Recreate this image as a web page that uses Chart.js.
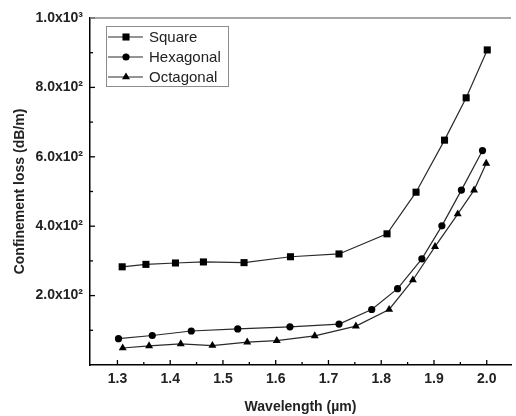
<!DOCTYPE html>
<html>
<head>
<meta charset="utf-8">
<script src="https://cdn.jsdelivr.net/npm/chart.js@4.4.0/dist/chart.umd.min.js"></script>
<style>
  body { margin: 0; background: #fff; }
  #wrap { width: 516px; height: 416px; }
</style>
</head>
<body>
<div id="wrap"><canvas id="lossChart" width="516" height="416"></canvas></div>
<script>
// wavelength (um) / confinement loss (dB/m)
const squareX = [1.309, 1.354, 1.410, 1.463, 1.540, 1.628, 1.720, 1.811, 1.866, 1.920, 1.961, 2.001];
const squareY = [283, 290, 294, 297, 295, 312, 320, 378, 498, 648, 770, 908];
const hexX = [1.302, 1.366, 1.440, 1.528, 1.627, 1.720, 1.782, 1.831, 1.877, 1.915, 1.952, 1.992];
const hexY = [76, 85, 98, 104, 110, 118, 160, 220, 306, 401, 504, 618];
const octX = [1.310, 1.360, 1.420, 1.480, 1.546, 1.602, 1.674, 1.752, 1.815, 1.860, 1.902, 1.945, 1.976, 1.999];
const octY = [49, 55, 61, 56, 66, 70, 84, 112, 160, 245, 341, 435, 504, 581];
const seriesNames = ['Square', 'Hexagonal', 'Octagonal'];
const xTickValues = [1.3, 1.35, 1.4, 1.45, 1.5, 1.55, 1.6, 1.65, 1.7, 1.75, 1.8, 1.85, 1.9, 1.95, 2.0];
const xTickLabels = ['1.3', '', '1.4', '', '1.5', '', '1.6', '', '1.7', '', '1.8', '', '1.9', '', '2.0'];
const yTickLabels = { 200: '2.0x10\u00b2', 400: '4.0x10\u00b2', 600: '6.0x10\u00b2', 800: '8.0x10\u00b2', 1000: '1.0x10\u00b3' };

const pts = (xs, ys) => xs.map((x, i) => ({ x: x, y: ys[i] }));

const lineColor = '#2a2a2a';
function series(label, data, style, radius) {
    return {
        label: label,
        data: data,
        borderColor: lineColor,
        borderWidth: 1.2,
        backgroundColor: '#000',
        pointStyle: style,
        pointRadius: radius,
        pointBorderWidth: 0,
        pointBackgroundColor: '#000',
        showLine: true,
        tension: 0
    };
}

// inward tick marks, top frame line and boxed legend
const framePlugin = {
    id: 'frame',
    afterDraw(chart) {
        const c = chart.ctx;
        const a = chart.chartArea;
        const xs = chart.scales.x, ys = chart.scales.y;
        c.save();
        c.strokeStyle = '#000';
        c.lineWidth = 1.3;
        xs.ticks.forEach((t, i) => {
            const px = xs.getPixelForValue(t.value);
            const len = xTickLabels[i] ? 5 : 3;
            c.beginPath();
            c.moveTo(px, a.bottom);
            c.lineTo(px, a.bottom - len);
            c.stroke();
        });
        ys.ticks.forEach(t => {
            if (t.value === 0) return;
            const py = ys.getPixelForValue(t.value);
            const len = yTickLabels[t.value] ? 5 : 3;
            c.beginPath();
            c.moveTo(a.left, py);
            c.lineTo(a.left + len, py);
            c.stroke();
        });
        // top frame
        c.strokeStyle = '#8a8a8a';
        c.lineWidth = 1.5;
        c.beginPath();
        c.moveTo(a.left, a.top);
        c.lineTo(a.right, a.top);
        c.stroke();

        // legend
        const bx = a.left + 16, by = a.top + 8;
        c.strokeStyle = '#8c8c8c';
        c.lineWidth = 1;
        c.strokeRect(bx + 0.5, by + 0.5, 122, 60);
        c.font = '15px "Liberation Sans", Arial, sans-serif';
        c.textBaseline = 'middle';
        chart.data.datasets.forEach((ds, i) => {
            const ry = by + 11 + i * 20;
            c.strokeStyle = lineColor;
            c.lineWidth = 1.2;
            c.beginPath();
            c.moveTo(bx + 2, ry);
            c.lineTo(bx + 37, ry);
            c.stroke();
            c.fillStyle = '#000';
            c.strokeStyle = '#000';
            Chart.helpers.drawPoint(c, { pointStyle: ds.pointStyle, radius: ds.pointRadius, borderWidth: 0 }, bx + 20, ry);
            c.fillStyle = '#222';
            c.fillText(ds.label, bx + 43, ry + 1);
        });
        c.restore();
    }
};

const ctx = document.getElementById('lossChart').getContext('2d');
const lossChart = new Chart(ctx, {
    type: 'scatter',
    data: {
        datasets: [
            series(seriesNames[0], pts(squareX, squareY), 'rect', 5),
            series(seriesNames[1], pts(hexX, hexY), 'circle', 3.6),
            series(seriesNames[2], pts(octX, octY), 'triangle', 4.6)
        ]
    },
    options: {
        responsive: false,
        animation: false,
        layout: { padding: { top: 18, right: 0, left: 0, bottom: 0 } },
        plugins: {
            legend: { display: false },
            tooltip: { enabled: false }
        },
        scales: {
            x: {
                type: 'linear',
                min: 1.248,
                max: 2.046,
                afterBuildTicks: axis => { axis.ticks = xTickValues.map(v => ({ value: v })); },
                afterFit: axis => { axis.height = 51; },
                grid: { display: false, drawTicks: false },
                border: { display: true, color: '#000', width: 1.5 },
                ticks: {
                    padding: 6,
                    color: '#222',
                    font: { family: '"Liberation Sans", Arial, sans-serif', size: 14, weight: 'bold' },
                    callback: (v, i) => xTickLabels[i]
                },
                title: {
                    display: true,
                    text: 'Wavelength (\u00b5m)',
                    color: '#222',
                    padding: { top: 4, bottom: 0 },
                    font: { family: '"Liberation Sans", Arial, sans-serif', size: 14, weight: 'bold' }
                }
            },
            y: {
                min: 0,
                max: 1000,
                afterFit: axis => { axis.width = 90; },
                grid: { display: false, drawTicks: false },
                border: { display: true, color: '#000', width: 1.5 },
                ticks: {
                    stepSize: 100,
                    padding: 7,
                    color: '#222',
                    autoSkip: false,
                    font: { family: '"Liberation Sans", Arial, sans-serif', size: 14, weight: 'bold' },
                    callback: v => yTickLabels[v] || ''
                },
                title: {
                    display: true,
                    text: 'Confinement loss (dB/m)',
                    color: '#222',
                    padding: { top: 12, bottom: 0 },
                    font: { family: '"Liberation Sans", Arial, sans-serif', size: 14, weight: 'bold' }
                }
            }
        }
    },
    plugins: [framePlugin]
});
</script>
</body>
</html>
